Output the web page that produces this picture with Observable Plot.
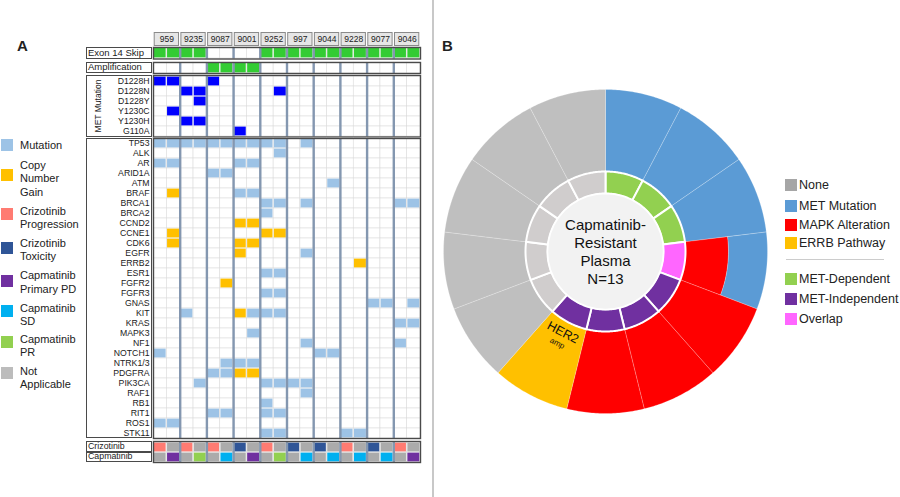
<!DOCTYPE html>
<html><head><meta charset="utf-8">
<script src="https://cdn.jsdelivr.net/npm/d3@7"></script>
<script src="https://cdn.jsdelivr.net/npm/@observablehq/plot@0.6"></script>
<style>
body{margin:0;background:#fff;font-family:"Liberation Sans",Arial,sans-serif;color:#222}
#root{position:relative;width:900px;height:497px;overflow:hidden;background:#fff}
.abs{position:absolute}
.lbox{position:absolute;border:1.3px solid #4a4a4a;box-sizing:border-box;background:transparent}
.ltxt{position:absolute;font-size:9.5px;white-space:nowrap}
.leg{position:absolute;font-size:11px;line-height:13.5px;white-space:nowrap}
.sq{position:absolute;width:12px;height:12px}
.legb{position:absolute;font-size:12.5px;white-space:nowrap;line-height:14px}
</style></head><body><div id="root"></div>
<script>
// ---------------- DATA ----------------
const patients = ["959","9235","9087","9001","9252","997","9044","9228","9077","9046"];
// two sample columns per patient: column index 0..19
const exonSkipCols = [0,1,2,3,8,9,10,11,12,13,14,15,16,17,18,19];
const amplificationCols = [4,5,6,7];
const metMutationRows = ["D1228H","D1228N","D1228Y","Y1230C","Y1230H","G110A"];
const metMutationCols = [[0,1,4],[2,3,9],[3],[1],[2,3],[6]];
const genes = ["TP53","ALK","AR","ARID1A","ATM","BRAF","BRCA1","BRCA2","CCND2","CCNE1","CDK6","EGFR","ERRB2","ESR1","FGFR2","FGFR3","GNAS","KIT","KRAS","MAPK3","NF1","NOTCH1","NTRK1/3","PDGFRA","PIK3CA","RAF1","RB1","RIT1","ROS1","STK11"];
const geneMutationCols = [
  ["TP53",[0,1,2,3,4,5,6,7,8,9,11]],["ALK",[9]],["AR",[0,1,6,7]],["ARID1A",[4,5]],["ATM",[13]],
  ["BRAF",[6,7]],["BRCA1",[8,9,11,18,19]],["BRCA2",[8]],["EGFR",[11]],["ESR1",[8,9]],["FGFR3",[8,9]],
  ["GNAS",[16,17,19]],["KIT",[2,7,8,9]],["KRAS",[18,19]],["MAPK3",[7]],["NF1",[11,18]],["NOTCH1",[0,12,13]],
  ["NTRK1/3",[5,6,7]],["PDGFRA",[4,5]],["PIK3CA",[3,8,9,10,11]],["RAF1",[11]],["RB1",[8]],["RIT1",[4,5,8,9]],
  ["ROS1",[0,1]],["STK11",[8,9,14,15]]
];
const geneCopyGainCols = [
  ["BRAF",[1]],["CCND2",[6,7]],["CCNE1",[1,8,9]],["CDK6",[1,6,7]],["EGFR",[6]],["ERRB2",[15]],
  ["FGFR2",[5]],["KIT",[6]],["PDGFRA",[6,7]]
];
const crizotinibResponse = ["Crizotinib Progression","Not Applicable","Crizotinib Progression","Not Applicable","Crizotinib Progression","Not Applicable","Crizotinib Toxicity","Not Applicable","Crizotinib Progression","Not Applicable","Crizotinib Toxicity","Not Applicable","Crizotinib Toxicity","Not Applicable","Crizotinib Progression","Not Applicable","Crizotinib Toxicity","Not Applicable","Crizotinib Progression","Not Applicable"];
const capmatinibResponse = ["Not Applicable","Capmatinib Primary PD","Not Applicable","Capmatinib PR","Not Applicable","Capmatinib SD","Not Applicable","Capmatinib Primary PD","Not Applicable","Capmatinib PR","Not Applicable","Capmatinib SD","Not Applicable","Capmatinib SD","Not Applicable","Capmatinib SD","Not Applicable","Capmatinib SD","Not Applicable","Capmatinib Primary PD"];
const legendALabels = ["Mutation","Copy\nNumber\nGain","Crizotinib\nProgression","Crizotinib\nToxicity","Capmatinib\nPrimary PD","Capmatinib\nSD","Capmatinib\nPR","Not\nApplicable"];
const legendAColors = ["#9dc3e6","#ffc000","#ff7b72","#2f5597","#7030a0","#00b0f0","#92d050","#bcbcbc"];
const responseKeys = ["Crizotinib Progression","Crizotinib Toxicity","Capmatinib Primary PD","Capmatinib SD","Capmatinib PR","Not Applicable"];
const responseColors = ["#ff7b72","#2f5597","#7030a0","#00b0f0","#92d050","#ababab"];

// Panel B
const outerAlteration = ["MET Mutation","MET Mutation","MET Mutation","MAPK Alteration","MAPK Alteration","MAPK Alteration","MAPK Alteration","ERRB Pathway","None","None","None","None","None"];
const outerSecondAlteration = [null,null,null,"MET Mutation",null,null,null,null,null,null,null,null,null];
const innerDependence = ["MET-Dependent","MET-Dependent","MET-Dependent","Overlap","MET-Independent","MET-Independent","MET-Independent","MET-Independent","None","None","None","None","None"];
const legendBOuter = ["None","MET Mutation","MAPK Alteration","ERRB Pathway"];
const legendBOuterColors = ["#a6a6a6","#5b9bd5","#ff0000","#ffc000"];
const legendBInner = ["MET-Dependent","MET-Independent","Overlap"];
const legendBInnerColors = ["#92d050","#7030a0","#ff66ff"];
const centerLabel = "Capmatinib-\nResistant\nPlasma\nN=13";

// ---------------- LAYOUT HELPERS ----------------
const root = document.getElementById("root");
function place(el, left, top){const d=document.createElement("div");d.className="abs";d.style.left=left+"px";d.style.top=top+"px";d.appendChild(el);root.appendChild(d);return d;}
function div(cls, css, html){const d=document.createElement("div");d.className=cls;Object.assign(d.style,css);if(html!==undefined)d.innerHTML=html;root.appendChild(d);return d;}
const columns = d3.range(patients.length*2);
const patientBoundaries = d3.range(1, patients.length).map(p => p*2);
const plotStyle = {fontFamily:"'Liberation Sans', Arial, sans-serif", fontSize:"8.7px", color:"#222", background:"transparent", overflow:"visible"};
const LABEL_LEFT = 86, GRID_LEFT = 153, GRID_W = 267;

function gridSection({rows, cells, top, height, colorDomain, colorRange, axis}){
  const bg = rows.flatMap(r => columns.map(c => ({row:r, col:c})));
  const marks = [
    Plot.barX(bg, {x1:"col", x2:d=>d.col+1, y:"row", fill:"white", stroke:"#dcdcdc", strokeWidth:0.6}),
    Plot.barX(cells, {x1:"col", x2:d=>d.col+1, y:"row", fill:"type", insetLeft:0.7, insetRight:0.7, insetTop:0.6, insetBottom:0.6}),
    Plot.ruleX(patientBoundaries, {stroke:"#8497b0", strokeWidth:2.4}),
    Plot.frame({stroke:"#4a4a4a", strokeWidth:1.4})
  ];
  if (axis) marks.push(Plot.axisY({tickSize:0, tickPadding:4, label:null}));
  const svg = Plot.plot({
    width: axis ? GRID_W + (GRID_LEFT-LABEL_LEFT) : GRID_W, height,
    marginLeft: axis ? GRID_LEFT-LABEL_LEFT : 0, marginRight:0, marginTop:0, marginBottom:0,
    x:{domain:[0, columns.length], axis:null},
    y: axis ? {domain:rows, padding:0, label:null} : {domain:rows, padding:0, axis:null},
    color:{type:"ordinal", domain:colorDomain, range:colorRange},
    style: plotStyle, marks
  });
  place(svg, axis ? LABEL_LEFT : GRID_LEFT, top);
}

// ---------------- PANEL A ----------------
div("abs", {left:"17px", top:"37px", fontSize:"15px", fontWeight:"bold"}, "A");

// patient header boxes
{
  const svg = Plot.plot({
    width: GRID_W, height: 14, margin:0,
    x:{domain:[0, columns.length], axis:null},
    style: {...plotStyle, fontSize:"8.5px"},
    marks:[
      Plot.barX(patients, {x1:(d,i)=>2*i, x2:(d,i)=>2*i+2, fill:"#e6e6e6", stroke:"#8a8a8a", strokeWidth:1, insetLeft:1.2, insetRight:1.2, insetTop:0.5, insetBottom:0.5}),
      Plot.text(patients, {x:(d,i)=>2*i+1, text:d=>d, fill:"#222"})
    ]
  });
  place(svg, GRID_LEFT, 32);
}

// Exon 14 skip
gridSection({rows:["Exon 14 Skip"], cells: exonSkipCols.map(c=>({row:"Exon 14 Skip", col:c, type:"Exon 14 Skip"})), top:47, height:11.5, colorDomain:["Exon 14 Skip"], colorRange:["#33cc33"], axis:false});
div("lbox", {left:LABEL_LEFT+"px", top:"47px", width:"66px", height:"11.5px"});
div("ltxt", {left:"88px", top:"46.5px", lineHeight:"12px"}, "Exon 14 Skip");

// Amplification
gridSection({rows:["Amplification"], cells: amplificationCols.map(c=>({row:"Amplification", col:c, type:"Amplification"})), top:61.5, height:11, colorDomain:["Amplification"], colorRange:["#33cc33"], axis:false});
div("lbox", {left:LABEL_LEFT+"px", top:"61.5px", width:"66px", height:"11px"});
div("ltxt", {left:"88px", top:"61px", lineHeight:"12px"}, "Amplification");

// MET mutation
gridSection({rows: metMutationRows, cells: metMutationRows.flatMap((r,i)=>metMutationCols[i].map(c=>({row:r, col:c, type:"MET Mutation"}))), top:75, height:61.5, colorDomain:["MET Mutation"], colorRange:["#0000ff"], axis:true});
div("lbox", {left:LABEL_LEFT+"px", top:"75px", width:"66px", height:"61.5px"});
div("abs", {left:"98px", top:"105.5px", fontSize:"8.5px", whiteSpace:"nowrap", transform:"translate(-50%,-50%) rotate(-90deg)"}, "MET Mutation");

// Genes
{
  const cells = [
    ...geneMutationCols.flatMap(([g,cs])=>cs.map(c=>({row:g, col:c, type:"Mutation"}))),
    ...geneCopyGainCols.flatMap(([g,cs])=>cs.map(c=>({row:g, col:c, type:"Copy Number Gain"})))
  ];
  gridSection({rows: genes, cells, top:138, height:300, colorDomain:["Mutation","Copy Number Gain"], colorRange:["#9dc3e6","#ffc000"], axis:true});
  div("lbox", {left:LABEL_LEFT+"px", top:"138px", width:"66px", height:"300px"});
}

// Treatment rows
{
  const cells = [
    ...crizotinibResponse.map((t,c)=>({row:"Crizotinib", col:c, type:t})),
    ...capmatinibResponse.map((t,c)=>({row:"Capmatinib", col:c, type:t}))
  ];
  gridSection({rows:["Crizotinib","Capmatinib"], cells, top:441, height:21, colorDomain:responseKeys, colorRange:responseColors, axis:false});
  div("lbox", {left:LABEL_LEFT+"px", top:"441px", width:"66px", height:"10.5px"});
  div("lbox", {left:LABEL_LEFT+"px", top:"451.5px", width:"66px", height:"10.5px"});
  div("ltxt", {left:"88px", top:"440.5px", fontSize:"8.8px", lineHeight:"11px"}, "Crizotinib");
  div("ltxt", {left:"88px", top:"451px", fontSize:"8.8px", lineHeight:"11px"}, "Capmatinib");
}

// Legend A
{
  const sqTops = [139,169,208,242,275,305,336,367];
  const txtTops = [138.5,158.5,204.5,236.5,269,301.5,332.5,364.5];
  legendALabels.forEach((l,i)=>{
    div("sq", {left:"1px", top:sqTops[i]+"px", background:legendAColors[i]});
    div("leg", {left:"20px", top:txtTops[i]+"px"}, l.replace(/\n/g,"<br>"));
  });
}

// divider
div("abs", {left:"432px", top:"0px", width:"2px", height:"497px", background:"#c8c8c8"});

// ---------------- PANEL B ----------------
div("abs", {left:"442px", top:"37px", fontSize:"15px", fontWeight:"bold"}, "B");
{
  const R_CENTER = 58/162, R_INNER = 80/162, R_SPLIT = 123/162, R_OUTER = 1;
  const pie = d3.pie().value(1).sort(null)(outerAlteration);
  const arcPoly = (a0,a1,r0,r1,key,id) => {
    const n = 40, pts = [];
    for (let k=0;k<=n;k++){const a=a0+(a1-a0)*k/n; pts.push({id,key,x:r1*Math.sin(a),y:r1*Math.cos(a)});}
    for (let k=n;k>=0;k--){const a=a0+(a1-a0)*k/n; pts.push({id,key,x:r0*Math.sin(a),y:r0*Math.cos(a)});}
    pts.push({...pts[0]});
    return pts;
  };
  const outerPts = [], innerPts = [];
  pie.forEach((p,i)=>{
    if (outerSecondAlteration[i]) {
      outerPts.push(...arcPoly(p.startAngle,p.endAngle,R_INNER,R_SPLIT,"outer:"+outerAlteration[i],"o"+i+"a"));
      outerPts.push(...arcPoly(p.startAngle,p.endAngle,R_SPLIT,R_OUTER,"outer:"+outerSecondAlteration[i],"o"+i+"b"));
    } else {
      outerPts.push(...arcPoly(p.startAngle,p.endAngle,R_INNER,R_OUTER,"outer:"+outerAlteration[i],"o"+i));
    }
    innerPts.push(...arcPoly(p.startAngle,p.endAngle,R_CENTER,R_INNER,"inner:"+innerDependence[i],"i"+i));
  });
  const centerPts = arcPoly(0, 2*Math.PI, 0, R_CENTER, "center", "c").filter(d=>d.x!==0||d.y!==0);
  const herIdx = outerAlteration.indexOf("ERRB Pathway");
  const herMid = (pie[herIdx].startAngle + pie[herIdx].endAngle)/2;
  const herLabels = [
    {text:"HER2", r:0.565, size:12.5},
    {text:"amp", r:0.64, size:8}
  ].map(d=>({...d, x:d.r*Math.sin(herMid), y:d.r*Math.cos(herMid)}));
  const rot = herMid*180/Math.PI - 180;

  const keys = ["outer:None","outer:MET Mutation","outer:MAPK Alteration","outer:ERRB Pathway","inner:MET-Dependent","inner:MET-Independent","inner:Overlap","inner:None","center"];
  const cols = ["#bfbfbf","#5b9bd5","#ff0000","#ffc000","#92d050","#7030a0","#ff66ff","#d0cdcd","#f2f2f2"];
  const S = 340, half = (S/2)/162;
  const svg = Plot.plot({
    width:S, height:S, margin:0,
    x:{domain:[-half,half], axis:null}, y:{domain:[-half,half], axis:null},
    color:{type:"ordinal", domain:keys, range:cols},
    style:{...plotStyle, fontSize:"15px"},
    marks:[
      Plot.line(outerPts, {x:"x", y:"y", z:"id", fill:"key", stroke:"white", strokeOpacity:0.22, strokeWidth:1, curve:"linear"}),
      Plot.line(innerPts, {x:"x", y:"y", z:"id", fill:"key", stroke:"white", strokeWidth:2, curve:"linear"}),
      Plot.line(centerPts, {x:"x", y:"y", z:"id", fill:"key", stroke:"white", strokeWidth:1.5, curve:"linear"}),
      Plot.text([{x:0,y:0,t:centerLabel}], {x:"x", y:"y", text:"t", fontSize:15, lineHeight:1.2, fill:"#111"}),
      Plot.text(herLabels, {x:"x", y:"y", text:"text", fontSize:d=>d.size, rotate:rot, fill:"#111"})
    ]
  });
  place(svg, 605 - S/2, 251 - S/2);

  // Legend B
  const outerTops = [179,200,219,237];
  legendBOuter.forEach((l,i)=>{
    div("sq", {left:"785px", top:outerTops[i]+"px", background:legendBOuterColors[i]});
    div("legb", {left:"799px", top:(outerTops[i]-1)+"px"}, l);
  });
  div("abs", {left:"786px", top:"258.5px", width:"98px", height:"1.5px", background:"#cccccc"});
  const innerTops = [273,293,313];
  legendBInner.forEach((l,i)=>{
    div("sq", {left:"785px", top:innerTops[i]+"px", background:legendBInnerColors[i]});
    div("legb", {left:"799px", top:(innerTops[i]-1)+"px"}, l);
  });
}
</script></body></html>
